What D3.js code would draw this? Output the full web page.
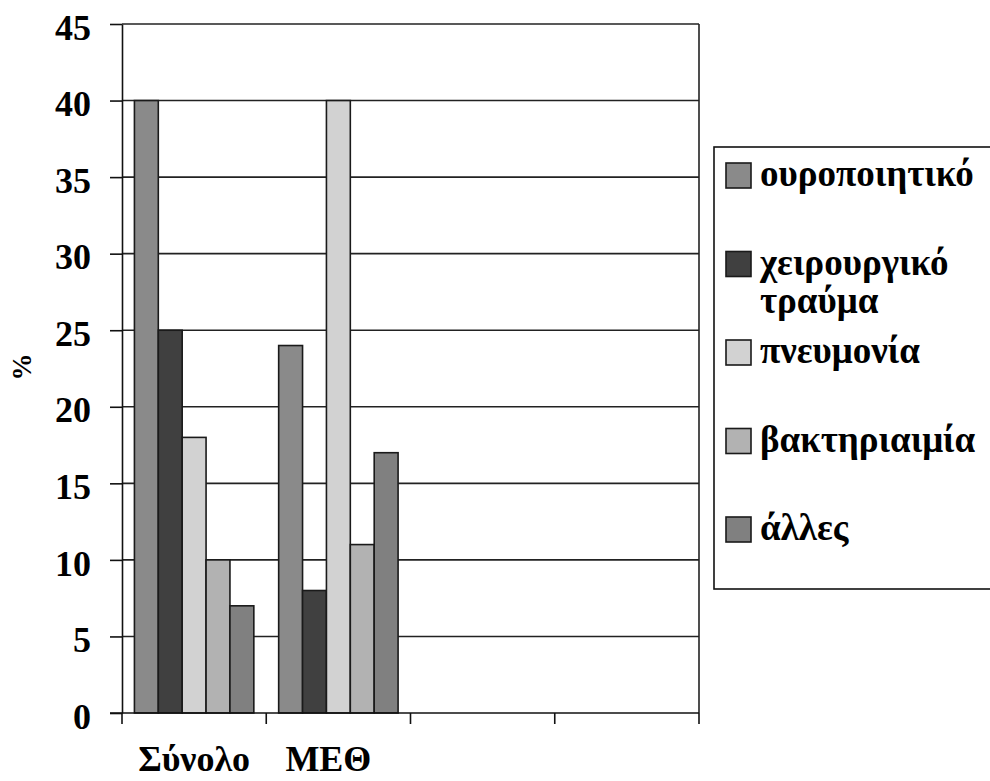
<!DOCTYPE html>
<html>
<head>
<meta charset="utf-8">
<script src="https://cdn.jsdelivr.net/npm/d3@7"></script>
<style>
  html, body { margin: 0; padding: 0; background: #fff; }
  svg { display: block; }
</style>
</head>
<body>
<svg id="chart" width="990" height="781"></svg>
<script>
// ---- data ----
const categories = ["Σύνολο", "ΜΕΘ", "", ""];
const seriesNames = ["ουροποιητικό", "χειρουργικό τραύμα", "πνευμονία", "βακτηριαιμία", "άλλες"];
const legendLines = [["ουροποιητικό"], ["χειρουργικό", "τραύμα"], ["πνευμονία"], ["βακτηριαιμία"], ["άλλες"]];
const valuesSynolo = [40, 25, 18, 10, 7];
const valuesMEth = [24, 8, 40, 11, 17];
const seriesColors = ["#8a8a8a", "#404040", "#d2d2d2", "#b2b2b2", "#808080"];
const yTicks = [0, 5, 10, 15, 20, 25, 30, 35, 40, 45];
const yLabel = "%";

const data = [valuesSynolo, valuesMEth, [], []];
const FONT = "'Liberation Serif', 'Times New Roman', serif";

// ---- layout ----
const svg = d3.select("#chart");
const plot = { left: 122, right: 699, top: 24, bottom: 713 };

const x0 = d3.scaleBand().domain(d3.range(categories.length)).range([plot.left, plot.right]).padding(0);
const x1 = d3.scaleBand().domain(d3.range(seriesNames.length)).range([0, x0.bandwidth()]).paddingInner(0).paddingOuter(0.52);
const y = d3.scaleLinear().domain([0, 45]).range([plot.bottom, plot.top]);

// gridlines
svg.append("g").selectAll("line").data(yTicks.filter(d => d > 0)).join("line")
  .attr("x1", plot.left).attr("x2", plot.right)
  .attr("y1", d => y(d)).attr("y2", d => y(d))
  .attr("stroke", "#222").attr("stroke-width", 1.6);

// right border of plot
svg.append("line").attr("x1", plot.right).attr("x2", plot.right)
  .attr("y1", y(45)).attr("y2", y(0)).attr("stroke", "#222").attr("stroke-width", 1.6);

// bars
const groups = svg.append("g").selectAll("g").data(data).join("g")
  .attr("transform", (d, i) => `translate(${x0(i)},0)`);
groups.selectAll("rect").data(d => d.map((v, j) => ({ v, j }))).join("rect")
  .attr("x", d => x1(d.j))
  .attr("width", x1.bandwidth())
  .attr("y", d => y(d.v))
  .attr("height", d => y(0) - y(d.v))
  .attr("fill", d => seriesColors[d.j])
  .attr("stroke", "#1a1a1a").attr("stroke-width", 1.6);

// y axis
const yAxis = svg.append("g").attr("transform", `translate(${plot.left},0)`)
  .call(d3.axisLeft(y).tickValues(yTicks).tickSize(12).tickPadding(19).tickSizeOuter(0));
yAxis.select(".domain").attr("stroke", "#111").attr("stroke-width", 1.6);
yAxis.selectAll(".tick line").attr("stroke", "#111").attr("stroke-width", 1.6);
yAxis.selectAll(".tick text").attr("font-size", 36).attr("font-family", FONT)
  .attr("font-weight", "bold").attr("fill", "#000").attr("dy", "0.42em");

// x axis line + ticks at category boundaries
svg.append("line").attr("x1", plot.left - 12).attr("x2", plot.right)
  .attr("y1", y(0)).attr("y2", y(0)).attr("stroke", "#111").attr("stroke-width", 1.6);
const bounds = d3.range(categories.length + 1).map(i => i < categories.length ? x0(i) : x0(i - 1) + x0.bandwidth());
svg.append("g").selectAll("line").data(bounds).join("line")
  .attr("x1", d => d).attr("x2", d => d)
  .attr("y1", y(0)).attr("y2", y(0) + 11)
  .attr("stroke", "#111").attr("stroke-width", 1.6);

// category labels
svg.append("g").selectAll("text").data(categories).join("text")
  .attr("x", (d, i) => x0(i) + x0.bandwidth() / 2 - (i === 1 ? 10 : 0))
  .attr("y", 771)
  .attr("text-anchor", "middle")
  .attr("font-family", FONT).attr("font-weight", "bold")
  .attr("font-size", 36)
  .text(d => d);

// y label
svg.append("text")
  .attr("transform", "translate(31,367) rotate(-90)")
  .attr("text-anchor", "middle")
  .attr("font-family", FONT).attr("font-weight", "bold")
  .attr("font-size", 27)
  .text(yLabel);

// legend
const legend = svg.append("g");
legend.append("rect").attr("x", 714).attr("y", 147).attr("width", 300).attr("height", 442)
  .attr("fill", "#fff").attr("stroke", "#111").attr("stroke-width", 1.6);
const legendY = d3.scaleLinear().domain([0, seriesNames.length - 1]).range([163, 517]);
const items = legend.selectAll("g.item").data(seriesNames).join("g").attr("class", "item")
  .attr("transform", (d, i) => `translate(726,${legendY(i)})`);
items.append("rect").attr("width", 25).attr("height", 25)
  .attr("fill", (d, i) => seriesColors[i]).attr("stroke", "#1a1a1a").attr("stroke-width", 1.6);
items.append("text").attr("x", 34).attr("y", 23)
  .attr("font-family", FONT).attr("font-weight", "bold").attr("font-size", 37)
  .selectAll("tspan").data((d, i) => legendLines[i]).join("tspan")
  .attr("x", 34).attr("dy", (d, k) => k === 0 ? 0 : 38)
  .text(d => d);
</script>
</body>
</html>
